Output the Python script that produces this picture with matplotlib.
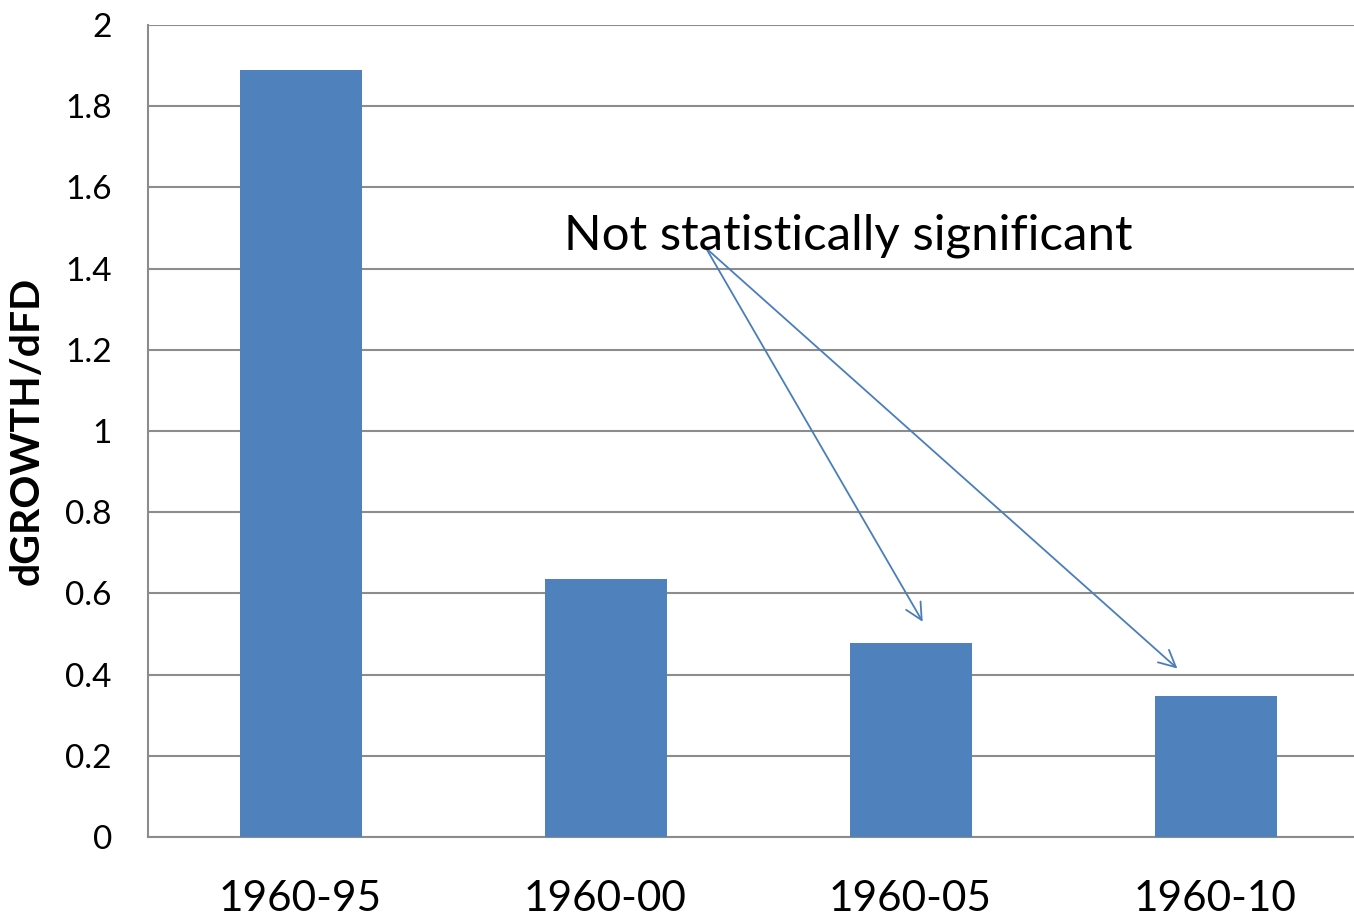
import matplotlib
matplotlib.use("Agg")
import matplotlib.pyplot as plt

periods = ["1960-95", "1960-00", "1960-05", "1960-10"]
effects = [1.89, 0.635, 0.478, 0.347]
yticks = [0, 0.2, 0.4, 0.6, 0.8, 1, 1.2, 1.4, 1.6, 1.8, 2]
ytick_labels = ["0", "0.2", "0.4", "0.6", "0.8", "1", "1.2", "1.4", "1.6", "1.8", "2"]

note_text = "Not statistically significant"
note_anchor = (1.33, 1.45)
note_targets = [(2.04, 0.53), (2.875, 0.415)]

plt.rcParams["font.family"] = ["Lato", "DejaVu Sans"]

fig = plt.figure(figsize=(13.54, 9.19), dpi=100)
ax = fig.add_axes([148 / 1354, 82 / 919, 1220 / 1354, 812 / 919])

x = range(len(periods))
ax.bar(x, effects, width=0.4, color="#4f81bd", zorder=3)

ax.set_xlim(-0.5, 3.5)
ax.set_ylim(0, 2)
ax.set_yticks(yticks)
ax.set_yticklabels(ytick_labels, fontsize=24)
ax.set_xticks(list(x))
ax.set_xticklabels(periods, fontsize=30.5)
ax.tick_params(axis="both", length=0, colors="black")
ax.tick_params(axis="x", pad=31)
ax.tick_params(axis="y", pad=26)

ax.yaxis.grid(True, color="#8c8c8c", linewidth=1.5, zorder=0)
ax.set_axisbelow(True)
for side in ("top", "right"):
    ax.spines[side].set_visible(False)
for side in ("left", "bottom"):
    ax.spines[side].set_color("#8c8c8c")
    ax.spines[side].set_linewidth(1.5)

ax.set_ylabel("dGROWTH/dFD", fontsize=29.5, fontweight="bold", labelpad=14)

ax.text(1.797, 1.446, note_text, fontsize=35.5, ha="center", va="baseline", zorder=5)
for tx, ty in note_targets:
    ax.annotate("", xy=(tx, ty), xytext=note_anchor,
                arrowprops=dict(arrowstyle="->", color="#4a7ebb", lw=1.3,
                                mutation_scale=30, shrinkA=0, shrinkB=0),
                zorder=4)

fig.savefig("out.png", dpi=100)
